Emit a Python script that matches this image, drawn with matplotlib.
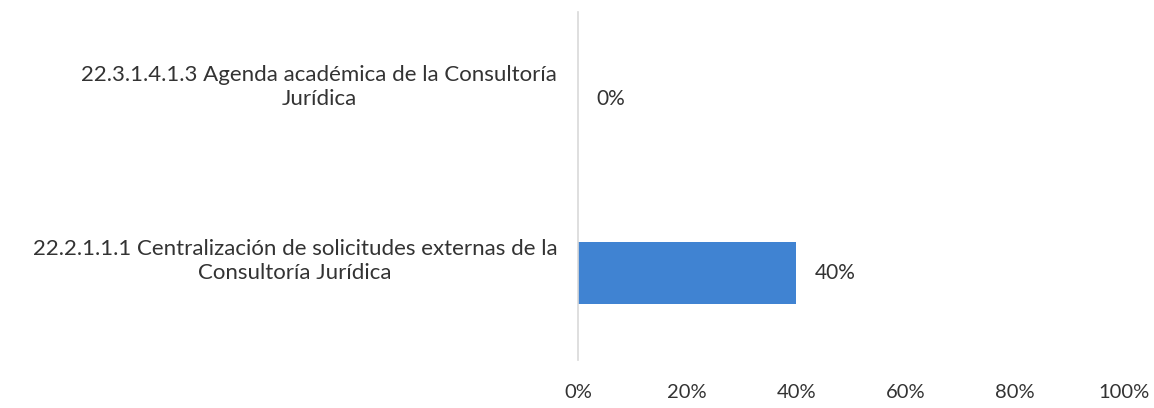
import matplotlib
matplotlib.use('Agg')
import matplotlib.pyplot as plt
from matplotlib.ticker import PercentFormatter

# datos del grafico
categorias = ['22.2.1.1.1 Centralización de solicitudes externas de la\nConsultoría Jurídica',
              '22.3.1.4.1.3 Agenda académica de la Consultoría\nJurídica']
valores = [40, 0]
ticks_x = [0, 20, 40, 60, 80, 100]

plt.rcParams['font.family'] = ['Lato', 'DejaVu Sans']
color_texto = '#333333'

fig = plt.figure(figsize=(11.54, 4.08), dpi=100)
ax = fig.add_axes([578 / 1154, 48 / 408, 546 / 1154, 348 / 408])

pos = list(range(len(categorias)))
ax.barh(pos, valores, height=0.36, color='#4083d2', linewidth=0)

ax.set_xlim(0, 100)
ax.set_ylim(-0.5, 1.5)
ax.set_xticks(ticks_x)
ax.xaxis.set_major_formatter(PercentFormatter(decimals=0))
ax.tick_params(axis='x', length=0, pad=17, labelsize=14.5, labelcolor=color_texto)
ax.set_yticks([])

for s in ['top', 'right', 'bottom']:
    ax.spines[s].set_visible(False)
ax.spines['left'].set_color('#d9d9d9')
ax.spines['left'].set_linewidth(1.2)

# etiquetas de categoria
trans = ax.get_yaxis_transform()
for p, c in zip(pos, categorias):
    ax.text(-0.038, p + 0.07, c, transform=trans, ha='right', va='center',
            multialignment='center', fontsize=16, color=color_texto, linespacing=1.25)

# etiquetas de datos
for p, v in zip(pos, valores):
    ax.annotate(f'{v}%', (v, p), xytext=(13, 0), textcoords='offset points',
                ha='left', va='center', fontsize=15, color=color_texto)

fig.savefig('out.png', dpi=100)
